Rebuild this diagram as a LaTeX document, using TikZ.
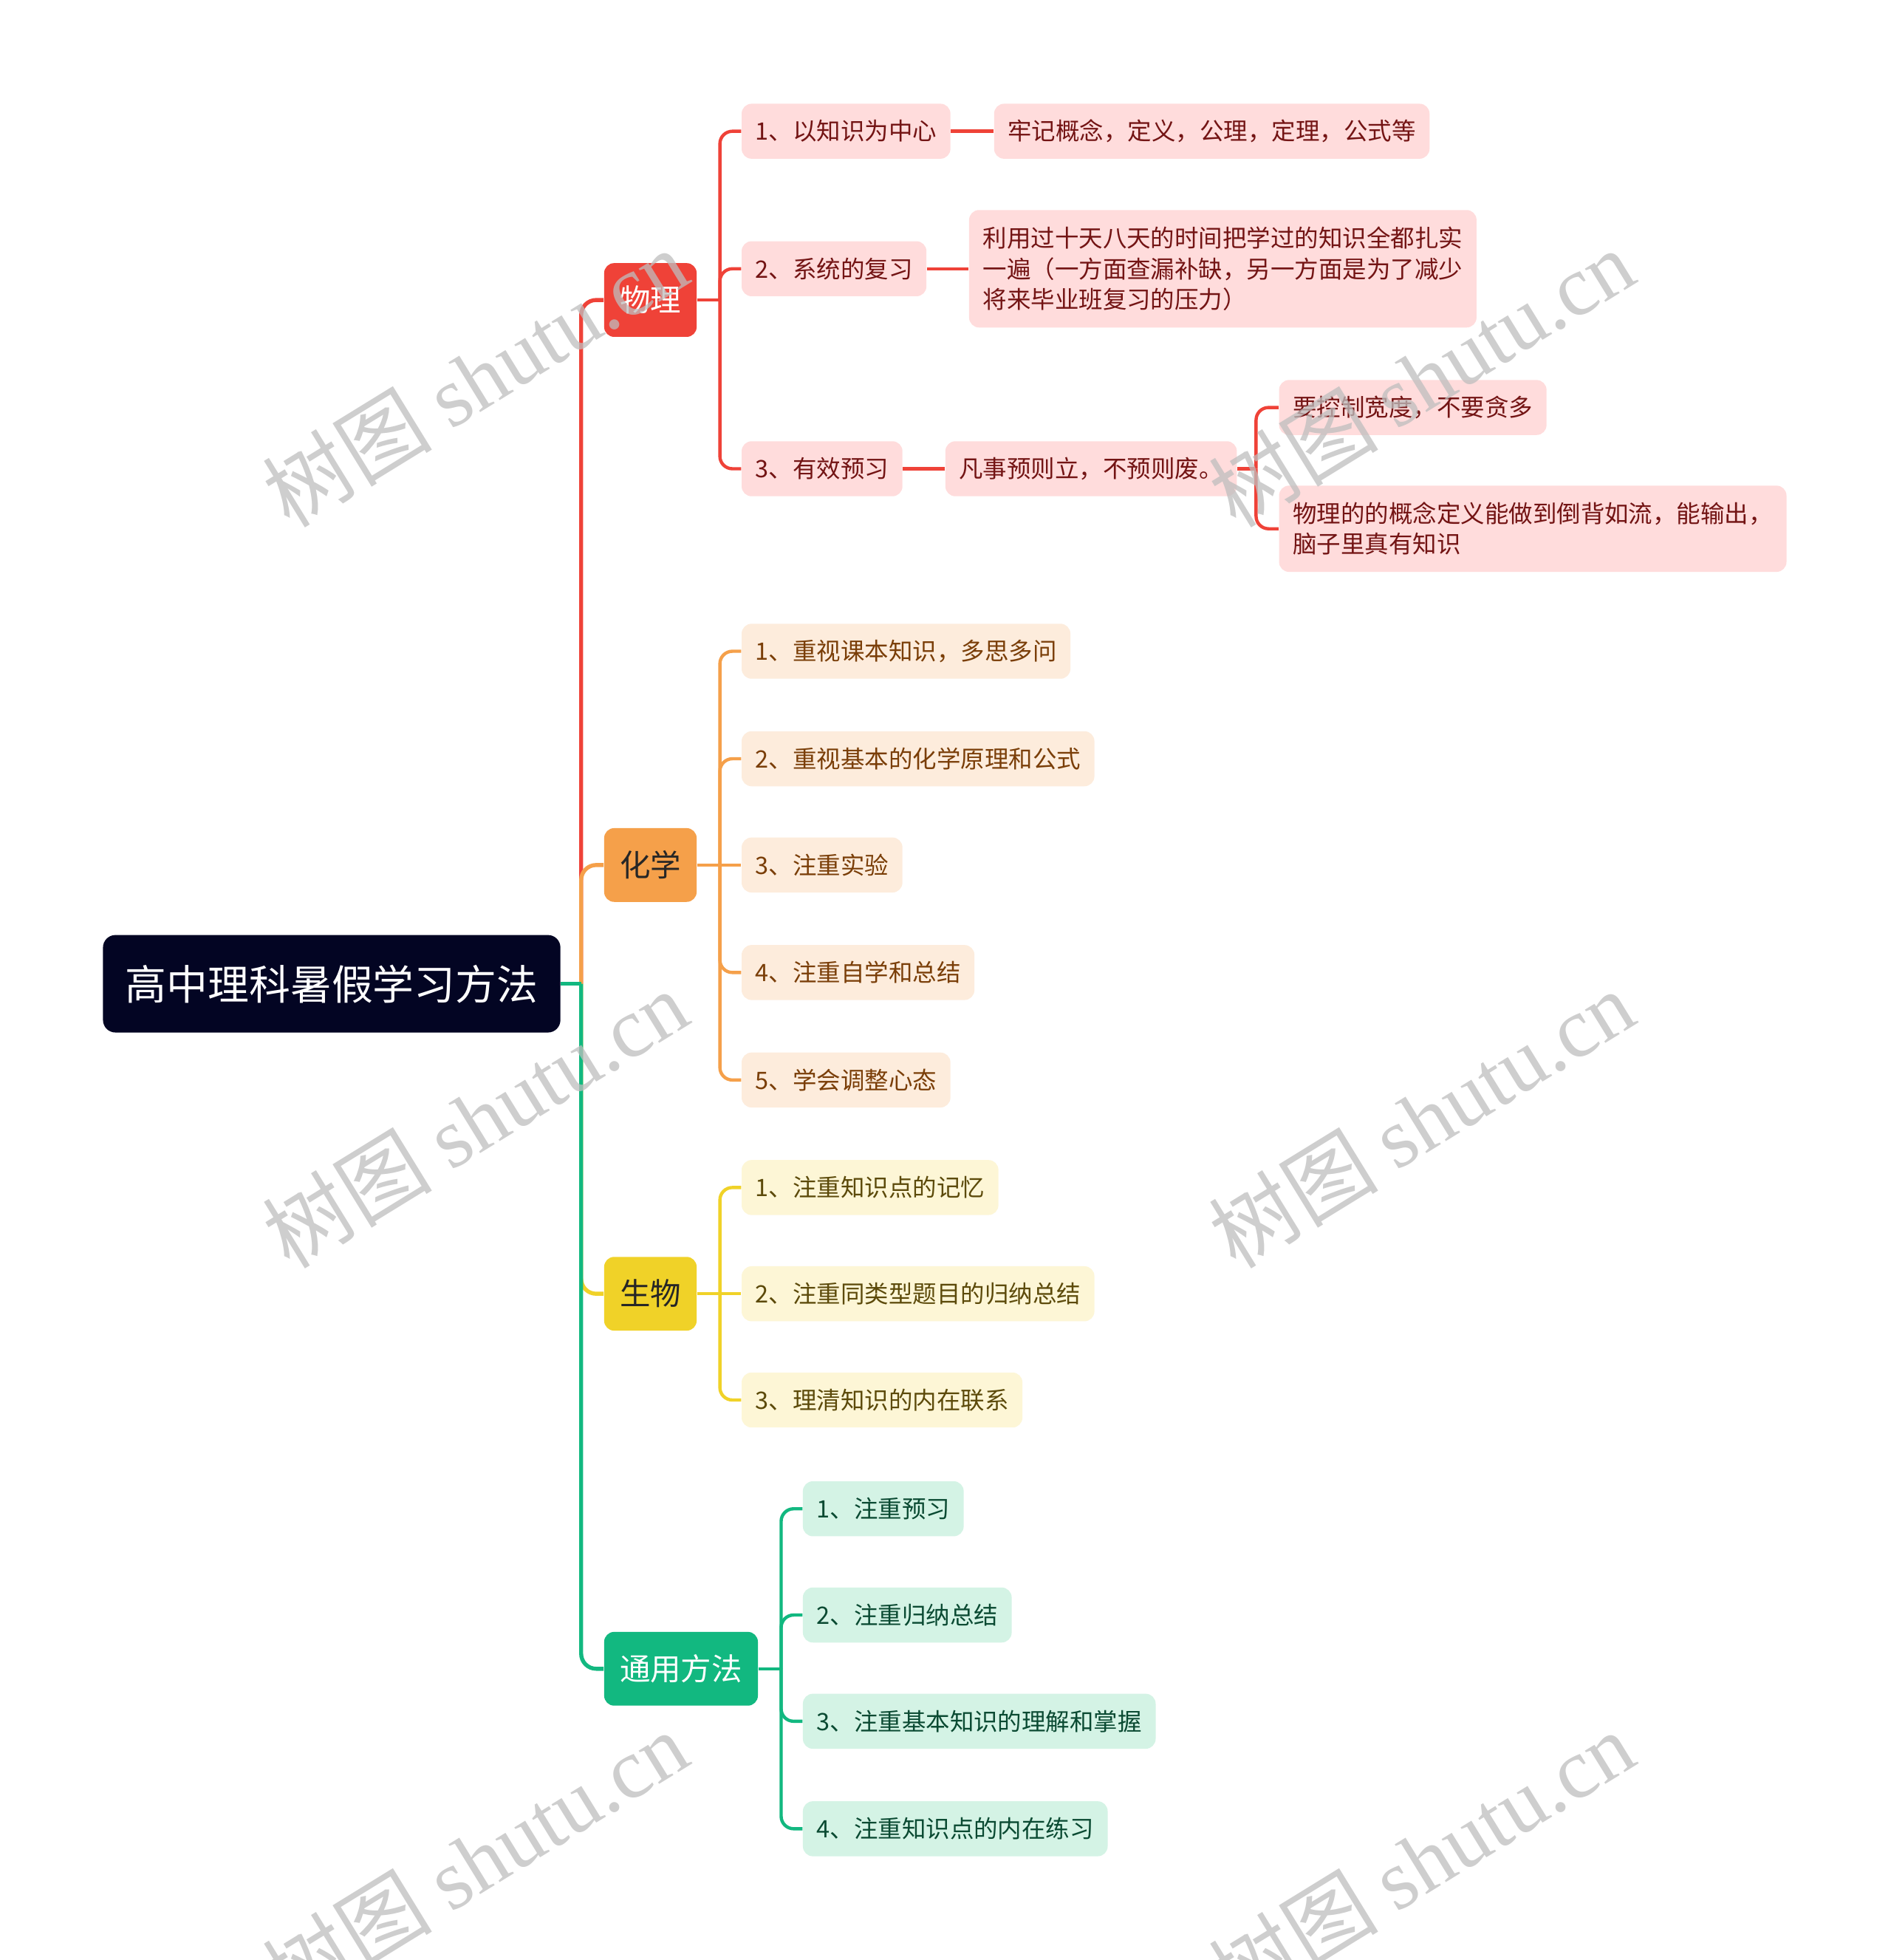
\documentclass[tikz,border=0pt]{standalone}
\usepackage{fontspec}
\setmainfont{Noto Sans CJK SC}
\newfontfamily\wmlatin{Liberation Serif}
\newfontfamily\wmcjk{Noto Sans CJK SC}
\definecolor{rootc}{RGB}{3,5,35}
\definecolor{redc}{RGB}{239,66,56}
\definecolor{orgc}{RGB}{245,160,74}
\definecolor{yelc}{RGB}{240,210,40}
\definecolor{grnc}{RGB}{18,184,128}
\definecolor{pinkf}{RGB}{255,220,220}
\definecolor{peachf}{RGB}{253,236,220}
\definecolor{lyelf}{RGB}{253,246,214}
\definecolor{mintf}{RGB}{212,243,229}
\definecolor{redt}{RGB}{115,20,20}
\definecolor{orgt}{RGB}{122,62,8}
\definecolor{yelt}{RGB}{92,74,10}
\definecolor{grnt}{RGB}{10,74,50}
\definecolor{wmc}{RGB}{190,190,190}
\tikzset{
  rootbox/.style={fill=rootc, text=white, rounded corners=5pt, anchor=west,
    inner xsep=9pt, minimum height=39pt, font=\fontsize{16.5}{20}\selectfont},
  mainbox/.style={rounded corners=4pt, anchor=west, inner xsep=6.25pt,
    minimum height=29.5pt, font=\fontsize{12.25}{15}\selectfont},
  leaf/.style={rounded corners=4pt, anchor=west, inner xsep=5.5pt, inner ysep=3pt,
    minimum height=22pt, align=left, font=\fontsize{9.6}{12.25}\selectfont},
  pk/.style={leaf, fill=pinkf, text=redt},
  pc/.style={leaf, fill=peachf, text=orgt},
  py/.style={leaf, fill=lyelf, text=yelt},
  pg/.style={leaf, fill=mintf, text=grnt},
  trunk/.style={line width=1.6pt},
  sub/.style={line width=1.3pt, rounded corners=5pt},
  wm/.style={text=wmc, opacity=0.75, rotate=31.6, inner sep=0pt,
    font=\fontsize{34}{34}\selectfont}
}
\begin{document}
\begin{tikzpicture}[x=0.5pt,y=-0.5pt]
\fill[white] (0,0) rectangle (1513,1568);
\useasboundingbox (0,0) rectangle (1513,1568);

% root and main branches
\node[rootbox] (root) at (82,787) {高中理科暑假学习方法};
\node[mainbox, fill=redc, text=white] (phys) at (483,240) {物理};
\node[mainbox, fill=orgc, text=black!85] (chem) at (483,692) {化学};
\node[mainbox, fill=yelc, text=black!85] (bio) at (483,1035) {生物};
\node[mainbox, fill=grnc, text=white] (gen) at (483,1335) {通用方法};

% physics
\node[pk] (p1) at (593,105) {1、以知识为中心};
\node[pk] (p1a) at (795,105) {牢记概念，定义，公理，定理，公式等};
\node[pk] (p2) at (593,215) {2、系统的复习};
\node[pk, minimum height=47pt] (p2a) at (775,215) {利用过十天八天的时间把学过的知识全都扎实\\一遍（一方面查漏补缺，另一方面是为了减少\\将来毕业班复习的压力）};
\node[pk] (p3) at (593,375) {3、有效预习};
\node[pk] (p3a) at (756,375) {凡事预则立，不预则废。};
\node[pk] (p3a1) at (1023,326) {要控制宽度，不要贪多};
\node[pk, minimum height=34.5pt] (p3a2) at (1023,423) {物理的的概念定义能做到倒背如流，能输出，\\脑子里真有知识};

% chemistry
\node[pc] (c1) at (593,521) {1、重视课本知识，多思多问};
\node[pc] (c2) at (593,607) {2、重视基本的化学原理和公式};
\node[pc] (c3) at (593,692) {3、注重实验};
\node[pc] (c4) at (593,778) {4、注重自学和总结};
\node[pc] (c5) at (593,864) {5、学会调整心态};

% biology
\node[py] (b1) at (593,950) {1、注重知识点的记忆};
\node[py] (b2) at (593,1035) {2、注重同类型题目的归纳总结};
\node[py] (b3) at (593,1120) {3、理清知识的内在联系};

% general
\node[pg] (g1) at (642,1207) {1、注重预习};
\node[pg] (g2) at (642,1292) {2、注重归纳总结};
\node[pg] (g3) at (642,1377) {3、注重基本知识的理解和掌握};
\node[pg] (g4) at (642,1463) {4、注重知识点的内在练习};

% trunk coordinates
\coordinate (t0) at (465,787);
\coordinate (tp) at (576,240);
\coordinate (tc) at (576,692);
\coordinate (tb) at (576,1035);
\coordinate (tg) at (625,1335);
\coordinate (tq) at (1005,375);

% main connectors
\draw[trunk, redc, rounded corners=6pt] (t0) |- (phys.west);
\draw[trunk, orgc, rounded corners=6pt] (t0) |- (chem.west);
\draw[trunk, yelc, rounded corners=6pt] (t0) |- (bio.west);
\draw[trunk, grnc, rounded corners=6pt] (t0) |- (gen.west);
\draw[trunk, grnc] (root.east) -- (t0);

% physics connectors
\draw[sub, redc] (phys.east) -- (tp);
\draw[sub, redc] (tp) |- (p1.west);
\draw[sub, redc] (tp) |- (p2.west);
\draw[sub, redc] (tp) |- (p3.west);
\draw[sub, redc] (p1.east) -- (p1a.west);
\draw[sub, redc] (p2.east) -- (p2a.west);
\draw[sub, redc] (p3.east) -- (p3a.west);
\draw[sub, redc] (p3a.east) -- (tq);
\draw[sub, redc] (tq) |- (p3a1.west);
\draw[sub, redc] (tq) |- (p3a2.west);

% chemistry connectors
\draw[sub, orgc] (chem.east) -- (c3.west);
\draw[sub, orgc] (tc) |- (c1.west);
\draw[sub, orgc] (tc) |- (c2.west);
\draw[sub, orgc] (tc) |- (c4.west);
\draw[sub, orgc] (tc) |- (c5.west);

% biology connectors
\draw[sub, yelc] (bio.east) -- (b2.west);
\draw[sub, yelc] (tb) |- (b1.west);
\draw[sub, yelc] (tb) |- (b3.west);

% general connectors
\draw[sub, grnc] (gen.east) -- (tg);
\draw[sub, grnc] (tg) |- (g1.west);
\draw[sub, grnc] (tg) |- (g2.west);
\draw[sub, grnc] (tg) |- (g3.west);
\draw[sub, grnc] (tg) |- (g4.west);

% watermarks
\node[wm] (wm1) at (380,302) {\wmcjk 树图 \wmlatin shutu.cn};
\node[wm] (wm2) at (380,895) {\wmcjk 树图 \wmlatin shutu.cn};
\node[wm] (wm3) at (380,1488) {\wmcjk 树图 \wmlatin shutu.cn};
\node[wm] (wm4) at (1137,302) {\wmcjk 树图 \wmlatin shutu.cn};
\node[wm] (wm5) at (1137,895) {\wmcjk 树图 \wmlatin shutu.cn};
\node[wm] (wm6) at (1137,1488) {\wmcjk 树图 \wmlatin shutu.cn};
\end{tikzpicture}
\end{document}
